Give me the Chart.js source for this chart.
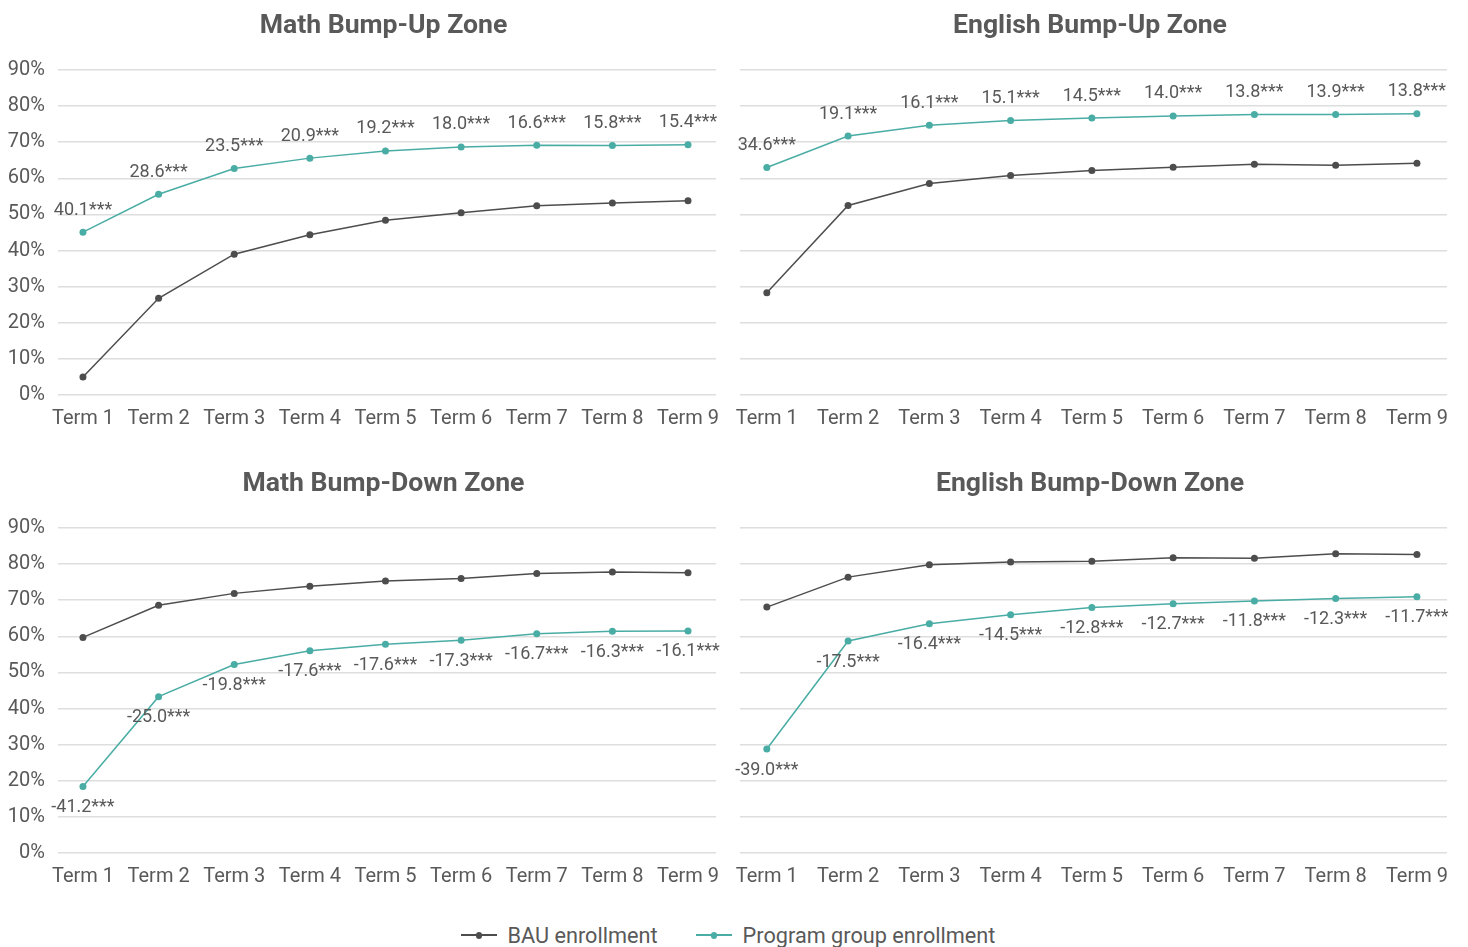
<!DOCTYPE html>
<html>
<head>
<meta charset="utf-8">
<script src="https://cdn.jsdelivr.net/npm/chart.js@4"></script>
<style>
  html, body { margin: 0; padding: 0; background: #ffffff; }
  body { width: 1468px; height: 947px; position: relative; overflow: hidden; font-family: Roboto, sans-serif; }
  .cv { position: absolute; }
  #legend { position: absolute; left: -6px; top: 918px; width: 1468px; height: 34px; display: flex; justify-content: center; align-items: center; color: #595959; font-size: 21.7px; font-family: Roboto, sans-serif; }
  .item { display: flex; align-items: center; margin: 0 19px; }
  .mk { position: relative; width: 36px; height: 10px; margin-right: 11px; }
  .mk .ln { position: absolute; left: 0; right: 0; top: 4px; height: 1.5px; }
  .mk .dt { position: absolute; left: 15px; top: 2px; width: 6.5px; height: 6.5px; border-radius: 50%; }
</style>
</head>
<body>
<canvas id="c1" class="cv" style="left:0px;top:0px" width="720" height="440"></canvas>
<canvas id="c2" class="cv" style="left:720px;top:0px" width="748" height="440"></canvas>
<canvas id="c3" class="cv" style="left:0px;top:458px" width="720" height="440"></canvas>
<canvas id="c4" class="cv" style="left:720px;top:458px" width="748" height="440"></canvas>
<div id="legend"></div>
<script>
// ---- Data ----
const terms = ['Term 1','Term 2','Term 3','Term 4','Term 5','Term 6','Term 7','Term 8','Term 9'];
const yTickLabels = ['0%','10%','20%','30%','40%','50%','60%','70%','80%','90%'];
const seriesNames = ['BAU enrollment', 'Program group enrollment'];

const mathUpBAU  = [5.0, 26.8, 39.0, 44.4, 48.4, 50.5, 52.4, 53.2, 53.8];
const mathUpProg = [45.1, 55.6, 62.7, 65.6, 67.6, 68.7, 69.2, 69.1, 69.3];
const mathUpLbl  = ['40.1***','28.6***','23.5***','20.9***','19.2***','18.0***','16.6***','15.8***','15.4***'];

const engUpBAU   = [28.3, 52.5, 58.6, 60.8, 62.2, 63.1, 63.9, 63.6, 64.2];
const engUpProg  = [63.0, 71.7, 74.7, 76.0, 76.7, 77.3, 77.7, 77.7, 77.9];
const engUpLbl   = ['34.6***','19.1***','16.1***','15.1***','14.5***','14.0***','13.8***','13.9***','13.8***'];

const mathDnBAU  = [59.7, 68.6, 71.9, 73.9, 75.3, 76.0, 77.4, 77.8, 77.6];
const mathDnProg = [18.4, 43.3, 52.2, 56.0, 57.8, 58.9, 60.7, 61.4, 61.5];
const mathDnLbl  = ['-41.2***','-25.0***','-19.8***','-17.6***','-17.6***','-17.3***','-16.7***','-16.3***','-16.1***'];

const engDnBAU   = [68.1, 76.4, 79.8, 80.6, 80.8, 81.8, 81.6, 82.9, 82.7];
const engDnProg  = [28.8, 58.7, 63.5, 66.0, 68.0, 69.0, 69.8, 70.5, 71.0];
const engDnLbl   = ['-39.0***','-17.5***','-16.4***','-14.5***','-12.8***','-12.7***','-11.8***','-12.3***','-11.7***'];

// ---- Styles ----
const BAU_COLOR = '#4d4d4d';
const PROG_COLOR = '#4aada5';
const TEXT = '#595959';
const GRID = '#dedede';
const FONT = 'Roboto';

const dataLabelPlugin = {
  id: 'dataLabels',
  afterLayout(chart) {
    if (chart.titleBlock) chart.titleBlock.left -= 7;
  },
  afterDatasetsDraw(chart) {
    const o = chart.options.plugins.dataLabels;
    if (!o) return;
    const meta = chart.getDatasetMeta(1);
    const ctx = chart.ctx;
    ctx.save();
    ctx.font = '18px ' + FONT;
    ctx.fillStyle = TEXT;
    ctx.textAlign = 'center';
    ctx.textBaseline = 'middle';
    meta.data.forEach((pt, i) => {
      ctx.fillText(o.labels[i], pt.x, pt.y + o.offset);
    });
    ctx.restore();
  }
};

function makeChart(id, title, bau, prog, labels, offset, showY) {
  new Chart(document.getElementById(id), {
    type: 'line',
    data: {
      datasets: [
        { label: seriesNames[0], data: bau.map((v, i) => ({x: i, y: v})),
          borderColor: BAU_COLOR, backgroundColor: BAU_COLOR, borderWidth: 1.5,
          pointRadius: 3.5, pointBorderWidth: 0, pointHoverRadius: 3.5, tension: 0 },
        { label: seriesNames[1], data: prog.map((v, i) => ({x: i, y: v})),
          borderColor: PROG_COLOR, backgroundColor: PROG_COLOR, borderWidth: 1.5,
          pointRadius: 3.5, pointBorderWidth: 0, pointHoverRadius: 3.5, tension: 0 }
      ]
    },
    options: {
      responsive: false,
      animation: false,
      events: [],
      layout: { padding: { left: 0, right: showY ? 4 : 21, top: 0, bottom: 0 } },
      plugins: {
        legend: { display: false },
        tooltip: { enabled: false },
        title: {
          display: true, text: title, fullSize: false, color: TEXT,
          font: { family: FONT, size: 26.6, weight: 'bold', lineHeight: 1.2 },
          padding: { top: 10, bottom: 28.1 }
        },
        dataLabels: { labels: labels, offset: offset }
      },
      scales: {
        x: {
          type: 'linear', min: -0.33, max: 8.37,
          afterBuildTicks: (s) => { s.ticks = terms.map((_, i) => ({ value: i })); },
          afterFit: (s) => { s.height = 45; s.paddingLeft = 0; s.paddingRight = 0; },
          grid: { display: false },
          border: { display: false },
          ticks: { color: TEXT, font: { family: FONT, size: 20 }, padding: 4, maxRotation: 0, autoSkip: false,
                   callback: (v) => terms[v] }
        },
        y: {
          min: 0, max: 90,
          afterBuildTicks: (s) => { s.ticks = yTickLabels.map((_, i) => ({ value: i * 10 })); },
          afterFit: (s) => { s.width = showY ? 58 : 20; },
          grid: { color: GRID, lineWidth: 1.5, drawTicks: false },
          border: { display: false },
          ticks: { display: showY, color: TEXT, font: { family: FONT, size: 20 }, padding: 13,
                   callback: (v) => yTickLabels[Math.round(v / 10)] }
        }
      }
    },
    plugins: [dataLabelPlugin]
  });
}

makeChart('c1', 'Math Bump-Up Zone', mathUpBAU, mathUpProg, mathUpLbl, -22, true);
makeChart('c2', 'English Bump-Up Zone', engUpBAU, engUpProg, engUpLbl, -22, false);
makeChart('c3', 'Math Bump-Down Zone', mathDnBAU, mathDnProg, mathDnLbl, 21, true);
makeChart('c4', 'English Bump-Down Zone', engDnBAU, engDnProg, engDnLbl, 21, false);

// ---- Legend ----
const legend = document.getElementById('legend');
[[seriesNames[0], BAU_COLOR], [seriesNames[1], PROG_COLOR]].forEach(([name, col]) => {
  const it = document.createElement('div'); it.className = 'item';
  const mk = document.createElement('div'); mk.className = 'mk';
  const ln = document.createElement('div'); ln.className = 'ln'; ln.style.background = col;
  const dt = document.createElement('div'); dt.className = 'dt'; dt.style.background = col;
  mk.appendChild(ln); mk.appendChild(dt);
  const tx = document.createElement('span'); tx.textContent = name;
  it.appendChild(mk); it.appendChild(tx);
  legend.appendChild(it);
});
</script>
</body>
</html>
